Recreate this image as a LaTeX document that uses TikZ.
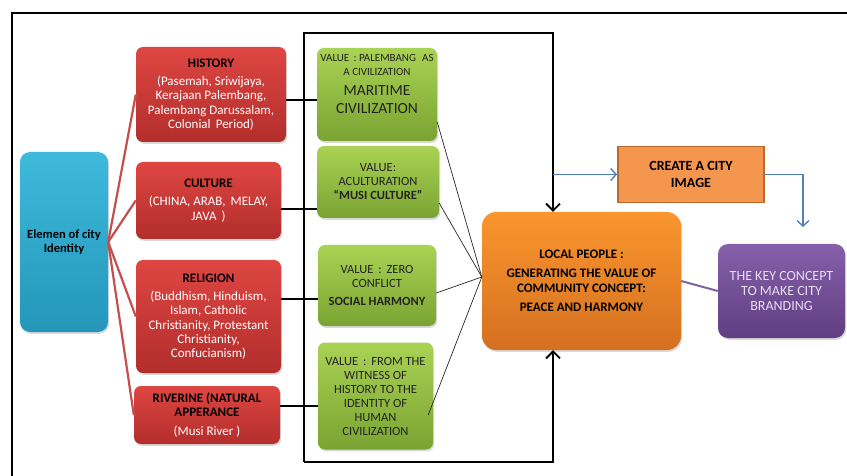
\documentclass[tikz,border=0pt]{standalone}
\usepackage{fontspec}
\setmainfont{Carlito}
\usepackage{tikz}
\usetikzlibrary{arrows.meta,shadows}
\definecolor{cblue}{RGB}{62,186,220}
\definecolor{cblued}{RGB}{36,150,186}
\definecolor{cred}{RGB}{222,70,66}
\definecolor{credd}{RGB}{178,46,44}
\definecolor{credl}{RGB}{196,80,77}
\definecolor{cgreen}{RGB}{170,210,84}
\definecolor{cgreend}{RGB}{122,164,50}
\definecolor{corange}{RGB}{250,150,46}
\definecolor{coranged}{RGB}{212,112,32}
\definecolor{cimage}{RGB}{245,150,78}
\definecolor{cimaged}{RGB}{186,104,46}
\definecolor{cpurple}{RGB}{134,96,170}
\definecolor{cpurpled}{RGB}{96,62,130}
\definecolor{cpurplet}{RGB}{232,222,242}
\definecolor{cpurplel}{RGB}{128,100,162}
\definecolor{cline}{RGB}{79,129,189}
\definecolor{ctext}{RGB}{34,34,34}

\begin{document}
\begin{tikzpicture}[x=1pt,y=-1pt,>={Straight Barb[length=7pt,width=14pt]},
  box/.style={rounded corners=7pt,align=center,inner sep=2pt,
    drop shadow={opacity=0.3,shadow xshift=1.2pt,shadow yshift=-1.8pt}},
  blue node/.style={box,rounded corners=10pt,top color=cblue,bottom color=cblued,
    minimum width=88pt,minimum height=180pt,font=\fontsize{12.5}{14}\selectfont\bfseries},
  red node/.style={box,top color=cred,bottom color=credd,text=white,
    minimum width=145pt,font=\fontsize{13}{14.3}\selectfont},
  green node/.style={box,top color=cgreen,bottom color=cgreend,text=ctext,
    font=\fontsize{12.5}{14}\selectfont},
  orange node/.style={box,rounded corners=14pt,top color=corange,bottom color=coranged,
    minimum width=199pt,minimum height=138pt,font=\fontsize{13}{14.5}\selectfont\bfseries},
  image node/.style={fill=cimage,draw=cimaged,line width=1.8pt,align=center,
    minimum width=146pt,minimum height=56pt,font=\fontsize{14}{17}\selectfont\bfseries},
  purple node/.style={box,rounded corners=10pt,top color=cpurple,bottom color=cpurpled,
    text=cpurplet,minimum width=127pt,minimum height=94pt,font=\fontsize{14}{15}\selectfont},
  red line/.style={draw=credl,line width=2.2pt},
  black line/.style={draw=black,line width=2pt},
  thin line/.style={draw=black!85,line width=0.7pt},
  loop line/.style={draw=black,line width=1.8pt},
  blue line/.style={draw=cline,line width=1.4pt,>={Straight Barb[length=5.5pt,width=12pt]}},
  purple line/.style={draw=cpurplel,line width=2pt}]
  \useasboundingbox (0,0) rectangle (847,476);
  \draw[line width=1.4pt] (12,476) -- (12,13) -- (847,13);

  \node[blue node] (1) at (64,242) {Elemen of city\\Identity};

  \node[red node,minimum width=150pt,minimum height=95pt] (2) at (211,94.5)
    {\textbf{\textcolor{black}{HISTORY}}\\[4pt](Pasemah, Sriwijaya,\\Kerajaan Palembang,\\
     Palembang Darussalam,\\Colonial\, Period)};
  \node[red node,minimum height=77pt] (3) at (208.5,200.5)
    {\textbf{\textcolor{black}{CULTURE}}\\[4pt](CHINA, ARAB,\, MELAY,\\JAVA\, )};
  \node[red node,minimum height=113pt] (4) at (208.5,316.5)
    {\textbf{\textcolor{black}{RELIGION}}\\[4pt](Buddhism, Hinduism,\\Islam, Catholic\\
     Christianity, Protestant\\Christianity,\\Confucianism)};
  \node[red node,minimum width=146pt,minimum height=58pt] (5) at (207,415)
    {\textbf{\textcolor{black}{RIVERINE (NATURAL}}\\\textbf{\textcolor{black}{APPERANCE}}\\[4pt]
     (Musi River )};

  \node[green node,minimum width=120pt,minimum height=93pt] (6) at (377,94.5)
    {{\fontsize{11}{12.5}\selectfont VALUE\, : PALEMBANG\,\, AS}\\
     {\fontsize{11}{12.5}\selectfont A CIVILIZATION}\\[6pt]
     {\fontsize{15.5}{17}\selectfont MARITIME}\\[4pt]{\fontsize{15.5}{17}\selectfont CIVILIZATION}\\[8pt]\mbox{}};
  \node[green node,minimum width=122pt,minimum height=72pt] (7) at (378,182)
    {VALUE:\\ACULTURATION\\\textbf{``MUSI CULTURE''}};
  \node[green node,minimum width=118pt,minimum height=81pt] (8) at (377,285.5)
    {VALUE\, :\, ZERO\\CONFLICT\\[4pt]\textbf{SOCIAL HARMONY}};
  \node[green node,minimum width=115pt,minimum height=107pt] (9) at (375.5,396)
    {VALUE\, :\, FROM THE\\WITNESS OF\\HISTORY TO THE\\IDENTITY OF\\HUMAN\\CIVILIZATION};

  \node[orange node] (10) at (581.5,281)
    {LOCAL PEOPLE :\\[5pt]GENERATING THE VALUE OF\\COMMUNITY CONCEPT:\\[5pt]PEACE AND HARMONY};
  \node[image node] (11) at (691,174.5) {CREATE A CITY\\IMAGE};
  \node[purple node] (12) at (781.5,291) {THE KEY CONCEPT\\TO MAKE CITY\\BRANDING};

  \coordinate (13) at (304,33);
  \coordinate (14) at (553,33);
  \coordinate (15) at (304,462);
  \coordinate (16) at (553,462);
  \coordinate (17) at (803,227);

  \path[red line]
    (1.east) edge (2.west)
    (1.east) edge (3.west)
    (1.east) edge (4.west)
    (1.east) edge (5.west);

  \draw[loop line,->] (15) -- (13) -- (14) -- (14 |- 10.north);
  \draw[loop line,->] (15) -- (16) -- (16 |- 10.south);

  \path[black line]
    (2.east |- 0,100) edge (6.west |- 0,100)
    (3.east |- 0,209) edge (7.west |- 0,209)
    (4.east |- 0,299) edge (8.west |- 0,299)
    (5.east |- 0,406) edge (9.west |- 0,406);

  \path[thin line]
    (6.east |- 0,122) edge ([yshift=4pt]10.west)
    (7.east |- 0,203) edge ([yshift=4pt]10.west)
    (8.east |- 0,293) edge ([yshift=4pt]10.west)
    ([xshift=-5pt]9.east |- 0,415) edge ([yshift=4pt]10.west);

  \draw[blue line,->] (14 |- 11.west) -- (11.west);
  \draw[blue line,->] (11.east) -| (17);
  \path[purple line] (10.east) edge (12.west);
\end{tikzpicture}
\end{document}
